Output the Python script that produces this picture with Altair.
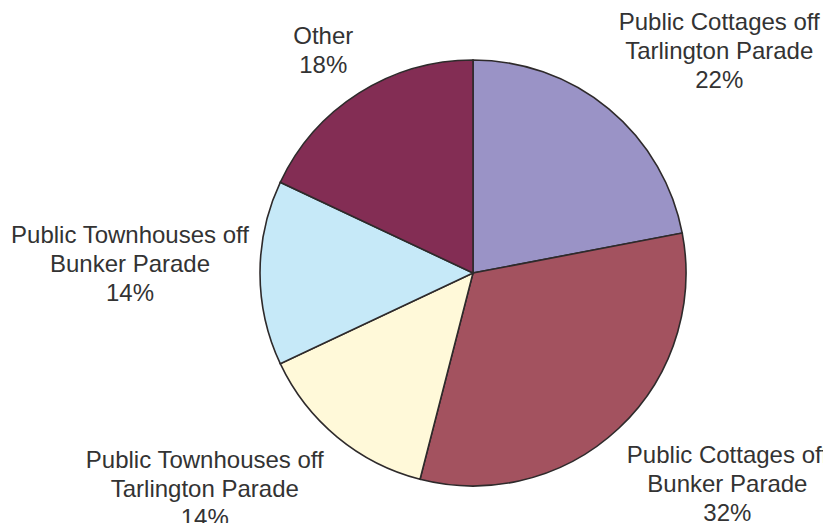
import altair as alt
import pandas as pd

categories = [
    "Public Cottages off Tarlington Parade",
    "Public Cottages off Bunker Parade",
    "Public Townhouses off Tarlington Parade",
    "Public Townhouses off Bunker Parade",
    "Other",
]
label_lines = [
    "Public Cottages off\nTarlington Parade",
    "Public Cottages off\nBunker Parade",
    "Public Townhouses off\nTarlington Parade",
    "Public Townhouses off\nBunker Parade",
    "Other",
]
shares = [22, 32, 14, 14, 18]
colors = ["#9A93C6", "#A3525F", "#FFF9D9", "#C6E9F8", "#832D54"]

labels = [f"{l}\n{s}%" for l, s in zip(label_lines, shares)]
df = pd.DataFrame({
    "category": categories,
    "share": shares,
    "order": list(range(len(categories))),
    "label": labels,
})

CX, CY = 465, 265  # pie centre inside the view
R = 213
LINE_H = 29

# per-label offsets (style), applied from a common label radius
label_offsets = {
    "Public Cottages off Tarlington Parade": (55, 10),
    "Public Cottages off Bunker Parade": (49, -7),
    "Public Townhouses off Tarlington Parade": (-77, -14),
    "Public Townhouses off Bunker Parade": (-43, -8),
    "Other": (11, 32),
}

base = alt.Chart(df).encode(
    theta=alt.Theta("share:Q", stack=True),
    order=alt.Order("order:Q"),
    x=alt.value(CX),
    y=alt.value(CY),
)

pie = base.mark_arc(outerRadius=R, stroke="#2E2A2B", strokeWidth=1.6).encode(
    color=alt.Color("category:N",
                    scale=alt.Scale(domain=categories, range=colors),
                    legend=None)
)

layers = [pie]
for cat, lab in zip(categories, labels):
    dx, dy = label_offsets[cat]
    nlines = lab.count("\n") + 1
    dy = dy - (nlines - 1) * LINE_H / 2
    txt = base.mark_text(
        radius=300, dx=dx, dy=dy,
        font="Liberation Sans", fontSize=24, lineHeight=LINE_H,
        lineBreak="\n", align="center", baseline="middle", color="#333333",
    ).encode(
        text="label:N",
        opacity=alt.condition(alt.datum.category == cat, alt.value(1), alt.value(0)),
    )
    layers.append(txt)

chart = alt.layer(*layers).properties(
    width=815, height=515, padding=0, autosize="none"
).configure_view(stroke=None)

chart.save("out.html", embed_options={"renderer": "svg", "actions": False})
